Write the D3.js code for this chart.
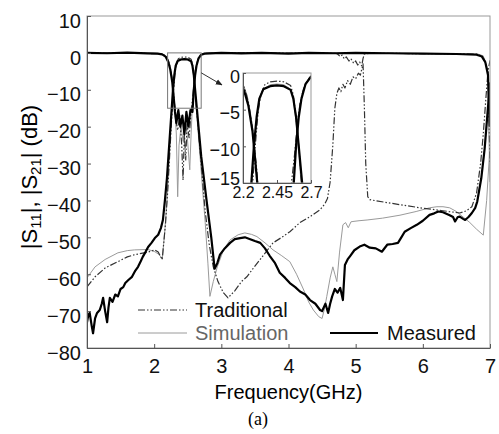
<!DOCTYPE html>
<html>
<head>
<meta charset="utf-8">
<script src="https://cdn.jsdelivr.net/npm/d3@7"></script>
<style>
  body { margin: 0; background: #fff; }
  svg { font-family: "Liberation Sans", Arial, sans-serif; }
  .axis text { fill: #111; }
  .axis line { stroke: #555; }
</style>
</head>
<body>
<div id="chart"></div>
<script>
// values: [frequency GHz, dB]
const tradS21 = [[1.0,-63.4],[1.12,-60.7],[1.27,-58.3],[1.46,-56.6],[1.6,-55.3],[1.71,-54.7],[1.91,-54],[2.01,-53.4],[2.06,-54],[2.09,-55],[2.12,-56],[2.14,-52],[2.17,-46],[2.2,-38],[2.23,-28],[2.26,-18],[2.29,-10],[2.31,-5.5],[2.33,-3],[2.36,-1.6],[2.4,-1.2],[2.45,-1.1],[2.5,-1.2],[2.55,-1.7],[2.57,-3],[2.59,-6],[2.61,-10],[2.64,-17],[2.7,-30],[2.76,-43],[2.82,-52],[2.88,-58],[2.95,-62],[3.03,-65],[3.1,-66.4],[3.2,-64.5],[3.3,-62],[3.38,-60.7],[3.5,-57.8],[3.62,-55],[3.77,-51.5],[3.9,-50],[4.02,-48.5],[4.17,-46],[4.32,-44.4],[4.47,-42.5],[4.54,-41],[4.58,-39.5],[4.62,-35],[4.66,-25],[4.69,-15],[4.72,-11],[4.75,-9.5],[4.78,-10.5],[4.81,-8.5],[4.84,-9.5],[4.88,-7.5],[4.92,-8.5],[4.96,-6.5],[5.0,-7],[5.04,-5.5],[5.07,-6],[5.09,-4.5],[5.11,-3],[5.13,-15],[5.15,-30],[5.18,-39],[5.21,-39.8],[5.47,-40.6],[5.96,-42],[6.3,-42.8],[6.55,-43.4],[6.65,-42.8],[6.73,-41.7],[6.8,-38],[6.86,-30],[6.9,-22],[6.94,-12],[6.97,-5],[7.0,-2]];
const tradS11 = [[1.0,0],[2.1,-0.2],[2.17,-0.8],[2.21,-2],[2.24,-4],[2.27,-7.5],[2.3,-13],[2.32,-18],[2.35,-21],[2.38,-17],[2.41,-25],[2.43,-34.5],[2.45,-22],[2.47,-29],[2.49,-19],[2.52,-23],[2.55,-16],[2.58,-11],[2.6,-7],[2.62,-4],[2.65,-1.8],[2.69,-0.6],[2.75,-0.1],[3.0,0],[4.7,-0.1],[4.73,-0.3],[4.77,-1],[4.8,-0.6],[4.83,-1.6],[4.86,-1.1],[4.9,-2.2],[4.93,-1.6],[4.97,-2.8],[5.0,-2.2],[5.03,-3.3],[5.06,-2.5],[5.09,-3.5],[5.11,-1.5],[5.13,-0.3],[5.2,-0.1],[6.8,-0.3],[6.87,-0.8],[6.93,-2.5],[6.97,-5],[7.0,-30]];

const simS21 = [[1.0,-61],[1.12,-58],[1.27,-56],[1.46,-54.2],[1.6,-53.6],[1.71,-53.4],[1.91,-53.3],[2.01,-53.9],[2.06,-54.5],[2.09,-55],[2.12,-56],[2.14,-52],[2.16,-48],[2.19,-40],[2.22,-30],[2.25,-20],[2.28,-11],[2.3,-7],[2.32,-4],[2.35,-2.2],[2.4,-1.6],[2.45,-1.5],[2.5,-1.6],[2.55,-2.2],[2.57,-3.5],[2.59,-6.5],[2.61,-11],[2.64,-18],[2.7,-32],[2.76,-46],[2.8,-57],[2.83,-66],[2.88,-62],[2.94,-58],[3.03,-53.5],[3.13,-50.7],[3.25,-49.3],[3.35,-48.8],[3.45,-49.2],[3.53,-49.8],[3.65,-51.5],[3.77,-53.4],[3.9,-55],[4.02,-56.6],[4.12,-60],[4.22,-64],[4.3,-67.5],[4.37,-69.7],[4.45,-71.5],[4.5,-72],[4.54,-69],[4.57,-66],[4.62,-61],[4.66,-58],[4.69,-60],[4.72,-62],[4.76,-54],[4.81,-46.6],[4.85,-46],[4.89,-47.4],[4.93,-45.8],[4.96,-45.7],[5.05,-45.5],[5.17,-45.3],[5.4,-44.8],[5.66,-44],[5.9,-43],[6.1,-42],[6.21,-41.7],[6.3,-41.7],[6.4,-42],[6.5,-43],[6.6,-44.5],[6.7,-46],[6.8,-47.8],[6.9,-49.4],[6.95,-40],[7.0,-25]];
const simS11 = [[1.0,0],[2.0,-0.05],[2.1,-0.2],[2.16,-0.6],[2.2,-1.5],[2.23,-3],[2.26,-6],[2.29,-11],[2.31,-16],[2.33,-22],[2.35,-39],[2.37,-25],[2.4,-20],[2.43,-24],[2.46,-19],[2.49,-22],[2.53,-31.7],[2.55,-22],[2.57,-14],[2.59,-9],[2.61,-5.5],[2.64,-2.5],[2.68,-0.8],[2.75,-0.1],[3.0,0],[6.8,-0.2],[6.9,-0.8],[6.96,-4],[7.0,-35]];

const measS21 = [[1.0,-73],[1.02,-71],[1.04,-70.5],[1.07,-74],[1.09,-76],[1.12,-72],[1.15,-70.5],[1.19,-69.7],[1.22,-68],[1.24,-66.4],[1.27,-70],[1.3,-73],[1.32,-69],[1.34,-66.4],[1.38,-67.5],[1.42,-65.5],[1.46,-66],[1.5,-64],[1.54,-63.5],[1.57,-62.4],[1.62,-61.5],[1.67,-60.7],[1.72,-59],[1.76,-58],[1.8,-56.5],[1.83,-55.3],[1.87,-54],[1.91,-52.6],[1.96,-51.5],[2.01,-50.2],[2.06,-49.3],[2.1,-47.5],[2.13,-45.3],[2.16,-40],[2.19,-34],[2.22,-26],[2.25,-18],[2.28,-10],[2.3,-6],[2.32,-3.5],[2.35,-2.2],[2.4,-1.8],[2.45,-1.7],[2.5,-1.8],[2.55,-2.3],[2.57,-3.5],[2.59,-6],[2.61,-10],[2.64,-16],[2.7,-28],[2.78,-40],[2.85,-50],[2.9,-58.5],[2.94,-57],[2.98,-54.7],[3.05,-53],[3.13,-51.5],[3.2,-50.5],[3.28,-50.2],[3.35,-50],[3.43,-50.5],[3.5,-51],[3.58,-51.5],[3.65,-53],[3.72,-55],[3.8,-57],[3.87,-59.6],[3.95,-61],[4.02,-62.4],[4.1,-63.5],[4.17,-64.7],[4.25,-65.5],[4.32,-67],[4.4,-68],[4.47,-69.7],[4.5,-70],[4.55,-68],[4.59,-70.5],[4.62,-68],[4.65,-66],[4.69,-64],[4.73,-65],[4.77,-63.7],[4.81,-67],[4.84,-57.5],[4.88,-56],[4.92,-55],[4.98,-53.5],[5.06,-52.5],[5.13,-52],[5.21,-52.8],[5.3,-53],[5.39,-53.9],[5.47,-52],[5.55,-51.8],[5.63,-51.5],[5.68,-50],[5.73,-48.5],[5.82,-47.5],[5.91,-46.6],[6.0,-45.5],[6.1,-43.9],[6.17,-43.5],[6.23,-43],[6.3,-43.2],[6.4,-44],[6.45,-44.5],[6.48,-45.7],[6.52,-44.5],[6.55,-44.4],[6.6,-45],[6.63,-45.3],[6.68,-44.5],[6.73,-43.4],[6.78,-42],[6.81,-40.3],[6.87,-34],[6.92,-26],[6.96,-17],[7.0,-8]];
const measS11 = [[1.0,0],[1.3,-0.1],[1.6,0.05],[1.9,-0.15],[2.05,-0.2],[2.12,-0.4],[2.17,-1],[2.21,-2.5],[2.24,-4.5],[2.27,-8],[2.29,-12],[2.31,-16],[2.33,-19],[2.36,-15.5],[2.39,-20],[2.42,-17],[2.45,-22],[2.48,-16],[2.51,-20],[2.54,-15.5],[2.57,-16],[2.59,-10],[2.61,-6],[2.63,-3.5],[2.66,-1.5],[2.7,-0.5],[2.75,-0.2],[3.0,0],[3.3,-0.15],[3.6,0],[4.0,-0.2],[4.3,0],[4.7,-0.1],[5.0,0],[5.5,-0.1],[6.0,-0.2],[6.5,-0.3],[6.8,-0.5],[6.88,-1],[6.93,-2.5],[6.97,-6],[7.0,-20]];

const xTicks = [1, 2, 3, 4, 5, 6, 7];
const yTicks = [10, 0, -10, -20, -30, -40, -50, -60, -70, -80];
const insetX = [2.2, 2.7];
const insetY = [-15, 0];
const insetXTicks = [2.2, 2.45, 2.7];
const insetYTicks = [0, -5, -10, -15];
const arrowFrom = [2.7, -5.4];
const arrowTo = [3.01, -8.7];

const w = 499, h = 434;
const m = {left: 87, right: 490, top: 16, bottom: 348};

const svg = d3.select("#chart").append("svg").attr("width", w).attr("height", h);

const x = d3.scaleLinear().domain([1, 7]).range([m.left, m.right]);
const y = d3.scaleLinear().domain([-80, 10]).range([m.bottom, m.top]);

const series = [
  {data: simS21, color: "#9a9a9a", width: 1, dash: null},
  {data: simS11, color: "#9a9a9a", width: 1, dash: null},
  {data: tradS21, color: "#333", width: 1.2, dash: "7,2,1.5,2,1.5,2"},
  {data: tradS11, color: "#333", width: 1.2, dash: "7,2,1.5,2,1.5,2"},
  {data: measS21, color: "#000", width: 2.2, dash: null},
  {data: measS11, color: "#000", width: 2.2, dash: null}
];

svg.append("clipPath").attr("id", "mainClip").append("rect")
   .attr("x", m.left).attr("y", m.top)
   .attr("width", m.right - m.left).attr("height", m.bottom - m.top);

function drawLines(g, sx, sy) {
  const line = d3.line().x(d => sx(d[0])).y(d => sy(d[1]));
  series.forEach(s => {
    g.append("path")
     .attr("d", line(s.data))
     .attr("fill", "none")
     .attr("stroke", s.color)
     .attr("stroke-width", s.width)
     .attr("stroke-linejoin", "round")
     .attr("stroke-dasharray", s.dash);
  });
}

drawLines(svg.append("g").attr("clip-path", "url(#mainClip)"), x, y);

// frame
svg.append("rect")
   .attr("x", m.left).attr("y", m.top)
   .attr("width", m.right - m.left).attr("height", m.bottom - m.top)
   .attr("fill", "none").attr("stroke", "#999").attr("stroke-width", 1);

// axes, ticks inward (labels sit a little below their ticks, as in the figure)
svg.append("g").attr("class", "axis")
   .attr("transform", "translate(0," + m.bottom + ")")
   .call(d3.axisBottom(x).tickValues(xTicks).tickFormat(d3.format("d"))
          .tickSizeInner(-4).tickSizeOuter(0).tickPadding(11))
   .call(g => g.select(".domain").attr("stroke", "#555"))
   .selectAll("text").style("font-size", "20px");

svg.append("g").attr("class", "axis")
   .attr("transform", "translate(" + m.left + ",0)")
   .call(d3.axisLeft(y).tickValues(yTicks).tickFormat(d3.format("d"))
          .tickSizeInner(-4).tickSizeOuter(0).tickPadding(6))
   .call(g => g.select(".domain").attr("stroke", "#555"))
   .selectAll("text").style("font-size", "20px").attr("dy", "0.56em");

// axis titles
svg.append("text")
   .attr("x", (m.left + m.right) / 2).attr("y", 399)
   .attr("text-anchor", "middle").style("font-size", "20px")
   .text("Frequency(GHz)");

const yt = svg.append("text")
   .attr("transform", "translate(37,177) rotate(-90)")
   .attr("text-anchor", "middle").style("font-size", "22px");
yt.append("tspan").text("|S");
yt.append("tspan").attr("baseline-shift", "-25%").style("font-size", "15px").text("11");
yt.append("tspan").text("|,  |S");
yt.append("tspan").attr("baseline-shift", "-25%").style("font-size", "15px").text("21");
yt.append("tspan").text("| (dB)");

svg.append("text")
   .attr("x", 258).attr("y", 425)
   .attr("text-anchor", "middle")
   .style("font-family", "'Liberation Serif', 'Times New Roman', serif")
   .style("font-size", "18px")
   .text("(a)");

// zoom rectangle in main plot
svg.append("rect")
   .attr("x", x(insetX[0])).attr("y", y(insetY[1]))
   .attr("width", x(insetX[1]) - x(insetX[0]))
   .attr("height", y(insetY[0]) - y(insetY[1]))
   .attr("fill", "none").attr("stroke", "#777").attr("stroke-width", 1);

// arrow
svg.append("defs").append("marker")
   .attr("id", "arr").attr("viewBox", "0 0 10 10")
   .attr("refX", 9).attr("refY", 5)
   .attr("markerWidth", 7).attr("markerHeight", 7)
   .attr("orient", "auto")
   .append("path").attr("d", "M0,1L10,5L0,9Z").attr("fill", "#222");

svg.append("line")
   .attr("x1", x(arrowFrom[0])).attr("y1", y(arrowFrom[1]))
   .attr("x2", x(arrowTo[0])).attr("y2", y(arrowTo[1]))
   .attr("stroke", "#333").attr("stroke-width", 1)
   .attr("marker-end", "url(#arr)");

// inset
const im = {left: 243, right: 311, top: 73, bottom: 183};
const ix = d3.scaleLinear().domain(insetX).range([im.left, im.right]);
const iy = d3.scaleLinear().domain(insetY).range([im.bottom, im.top]);

svg.append("rect")
   .attr("x", im.left).attr("y", im.top)
   .attr("width", im.right - im.left).attr("height", im.bottom - im.top)
   .attr("fill", "#fff");

svg.append("clipPath").attr("id", "insetClip").append("rect")
   .attr("x", im.left).attr("y", im.top)
   .attr("width", im.right - im.left).attr("height", im.bottom - im.top);

drawLines(svg.append("g").attr("clip-path", "url(#insetClip)"), ix, iy);

svg.append("rect")
   .attr("x", im.left).attr("y", im.top)
   .attr("width", im.right - im.left).attr("height", im.bottom - im.top)
   .attr("fill", "none").attr("stroke", "#999").attr("stroke-width", 1);

svg.append("g").attr("class", "axis")
   .attr("transform", "translate(0," + im.bottom + ")")
   .call(d3.axisBottom(ix).tickValues(insetXTicks).tickFormat(d => d)
          .tickSizeInner(-3).tickSizeOuter(0).tickPadding(4))
   .call(g => g.select(".domain").attr("stroke", "#555"))
   .selectAll("text").style("font-size", "16px");

svg.append("g").attr("class", "axis")
   .attr("transform", "translate(" + im.left + ",0)")
   .call(d3.axisLeft(iy).tickValues(insetYTicks).tickFormat(d3.format("d"))
          .tickSizeInner(-3).tickSizeOuter(0).tickPadding(3))
   .call(g => g.select(".domain").attr("stroke", "#555"))
   .selectAll("text").style("font-size", "18px")
   .attr("dy", d => d === -15 ? "0.1em" : "0.5em");

// legend
const legend = [
  {name: "Traditional", s: series[2], x1: 138, x2: 187, y: 310, tx: 195, tc: "#111"},
  {name: "Simulation", s: series[0], x1: 138, x2: 187, y: 333, tx: 195, tc: "#666"},
  {name: "Measured", s: series[4], x1: 330, x2: 378, y: 333, tx: 387, tc: "#111"}
];
legend.forEach(l => {
  svg.append("line")
     .attr("x1", l.x1).attr("x2", l.x2).attr("y1", l.y).attr("y2", l.y)
     .attr("stroke", l.s.color).attr("stroke-width", l.s.width)
     .attr("stroke-dasharray", l.s.dash);
  svg.append("text")
     .attr("x", l.tx).attr("y", l.y).attr("dy", "0.36em")
     .style("font-size", "20px").attr("fill", l.tc)
     .text(l.name);
});
</script>
</body>
</html>
